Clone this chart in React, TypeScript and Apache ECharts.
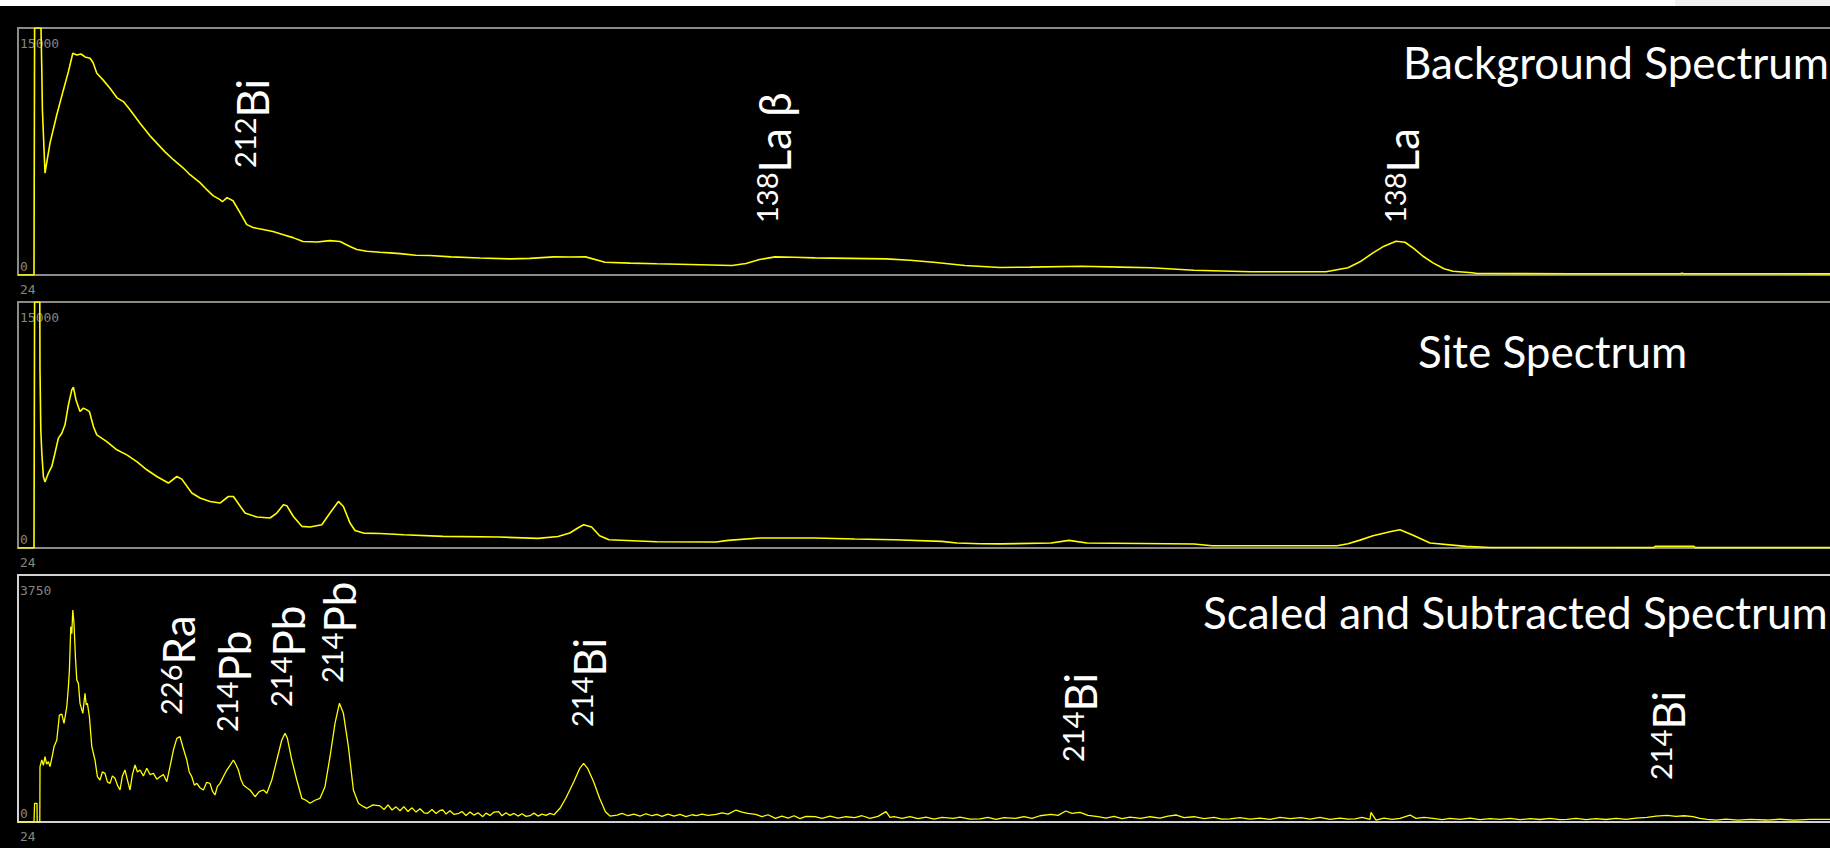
import React, { useEffect, useRef } from 'react';
import * as echarts from 'echarts';

// channel range of the x axis
const CHANNEL_MIN = 24;
const CHANNEL_MAX = 935;

const panelTitles = ['Background Spectrum', 'Site Spectrum', 'Scaled and Subtracted Spectrum'];
const panelMax = [15000, 15000, 3750];

// [channel, counts]
const background: [number, number][] = [
  [24, 0], [32, 0], [32.3, 15000], [35.5, 15000], [35.9, 12450], [36.2, 10030], [37.5, 6190],
  [40, 8010], [43.4, 9730], [46.7, 11240], [49.2, 12350], [51.4, 13470], [53.4, 13360], [55.5, 13420],
  [57.5, 13240], [60, 13160], [61.5, 12900], [63.4, 12250], [66.5, 11850], [70, 11340], [73.5, 10760],
  [76.7, 10530], [80, 10030], [85, 9220], [90, 8450], [93.4, 8010], [97.5, 7480], [101.7, 7000],
  [106.5, 6510], [110, 6090], [115, 5610], [118.4, 5180], [121.5, 4820], [125, 4580], [126.2, 4450],
  [128.5, 4700], [131.5, 4510], [135, 3790], [138.4, 3060], [141.5, 2880], [146.5, 2760], [151.5, 2640],
  [156.7, 2450], [161.5, 2270], [166.5, 2030], [173.5, 2000], [180, 2090], [185, 2030], [190, 1730],
  [193.4, 1550], [198.4, 1440], [205, 1380], [210, 1345], [215, 1300], [222.8, 1200], [230, 1180],
  [240.5, 1100], [255, 1030], [270, 980], [280, 1010], [292, 1100], [300, 1090], [307.8, 1100],
  [317.5, 776], [330, 720], [343.4, 679], [360, 640], [381, 576], [388, 700], [394.8, 940],
  [402.5, 1100], [412, 1080], [422.5, 1040], [440, 1010], [458, 980], [470, 900], [481.8, 776],
  [497.5, 576], [515, 455], [530, 480], [555.5, 533], [575, 480], [590.5, 436], [612, 291],
  [640.5, 194], [678, 194], [689, 436], [695, 800], [701.5, 1345], [707, 1750], [713, 2048],
  [717.5, 1988], [722, 1600], [726.5, 1139], [731.5, 739], [737, 376], [741.5, 230], [751, 133],
  [753.5, 91], [800, 75], [855, 80], [856, 110], [857, 78], [930, 70],
];

const site: [number, number][] = [
  [24, 0], [32, 0], [32.3, 15000], [34.9, 15000], [35, 10860], [35.4, 7210], [35.9, 5790],
  [36.7, 4360], [37.5, 4020], [39.2, 4570], [40.9, 4970], [42.5, 5790], [44.2, 6700], [45.9, 7000],
  [47.5, 7510], [49.2, 8730], [50.9, 9640], [51.7, 9800], [53, 9030], [55, 8320], [56.7, 8530],
  [58.4, 8420], [59.7, 8320], [61.7, 7410], [63.4, 6900], [68.4, 6490], [73.4, 5990], [78.4, 5680],
  [83.4, 5270], [88.4, 4770], [93.4, 4360], [99.2, 3960], [103.4, 4360], [105.9, 4200], [110.9, 3350],
  [115, 3050], [120, 2840], [125, 2740], [129.2, 3140], [131.7, 3140], [137.5, 2130], [143.4, 1890],
  [150, 1830], [153.4, 2130], [156.7, 2640], [158.4, 2580], [161.7, 1920], [165.9, 1320], [170, 1280],
  [175.9, 1420], [180, 2130], [184.2, 2840], [186.7, 2530], [190, 1520], [192.5, 1070], [196.7, 910],
  [205, 880], [216.9, 810], [236.5, 706], [264.3, 670], [284, 585], [294, 706], [299.9, 913],
  [303.9, 1218], [306.8, 1419], [310.8, 1279], [314.8, 749], [319.5, 505], [343.4, 383], [373, 365],
  [379, 463], [394.8, 609], [422.5, 609], [442.3, 548], [462, 505], [485.8, 402], [493.5, 304],
  [505, 262], [515, 250], [540.5, 304], [549.5, 463], [558.5, 304], [612, 243], [621, 140],
  [683.5, 140], [689, 262], [695, 480], [701.5, 749], [710.5, 1011], [715, 1115], [721, 810],
  [730, 304], [748, 97], [760, 30], [842, 25], [842.5, 97], [862, 97], [862.5, 25], [930, 20],
];

const subtracted: [number, number][] = [
  [24, 0], [32, 0], [32.3, 284], [33.5, 284], [33.6, 0], [34.9, 0], [35, 840], [35.9, 941],
  [36.7, 860], [37.5, 991], [38.3, 880], [39.2, 915], [40, 840], [41.4, 1043], [42, 1143], [43.4, 1245],
  [44.7, 1624], [45.9, 1639], [47, 1498], [48.4, 1750], [49.2, 2054], [49.7, 2307], [50.4, 2965],
  [50.9, 2860], [51.4, 3218], [52, 3016], [52.7, 2509], [53.4, 2156], [54.2, 2105], [55, 1802],
  [56.4, 1650], [57.5, 1954], [58.1, 1780], [58.7, 1802], [59.7, 1598], [60.9, 1143], [62.5, 941],
  [63.7, 688], [65, 638], [66.2, 760], [67.5, 739], [68.7, 610], [70, 587], [71.2, 700], [72.5, 663],
  [73.7, 560], [75, 486], [76.2, 700], [77.5, 789], [78.7, 640], [80, 486], [81.2, 720], [82.5, 865],
  [83.7, 760], [85, 789], [86.7, 700], [88.4, 815], [90, 720], [91.7, 739], [93.4, 650], [95, 688],
  [96.7, 720], [98.4, 612], [100, 840], [101.7, 1093], [103.4, 1270], [105, 1295], [106.4, 1143],
  [108.4, 941], [109.6, 760], [110.9, 688], [112.2, 560], [113.4, 587], [115, 520], [116.7, 486],
  [118.3, 600], [120, 587], [121.2, 470], [122.5, 410], [123.7, 540], [125, 587], [126.7, 690],
  [128.4, 789], [130, 860], [131.7, 941], [133, 870], [134.2, 789], [135.5, 640], [136.7, 562],
  [138.4, 520], [140, 486], [141.2, 440], [142.5, 384], [144.6, 460], [146.7, 486], [148.4, 436],
  [150.9, 638], [153.4, 941], [155.9, 1245], [157.5, 1346], [158.7, 1270], [160.9, 941], [163.4, 638],
  [165.9, 360], [168, 330], [170, 284], [172.5, 330], [175, 360], [177.5, 536], [180, 991],
  [182.5, 1498], [184.7, 1802], [186.7, 1650], [189.2, 1143], [191.7, 486], [194.2, 284], [196.3, 240],
  [198.4, 208], [201.5, 260], [205, 245], [207, 190], [209, 260], [211, 182], [213, 230], [215, 170],
  [216.9, 233], [219, 160], [221, 215], [223, 150], [225, 200], [227, 140], [228.8, 132], [231, 190],
  [233, 130], [235, 175], [236.5, 182], [238, 120], [240, 170], [242, 115], [244.5, 132], [246, 160],
  [248, 100], [250, 150], [252, 105], [254, 140], [256.4, 81], [258, 135], [260, 100], [262, 150],
  [264.3, 157], [266, 95], [268, 140], [270, 100], [272, 130], [274, 90], [276, 125], [278, 85],
  [280, 96], [282, 135], [284, 90], [286, 120], [288, 100], [290, 132], [292, 110], [293.5, 160],
  [295, 208], [297.9, 360], [301.9, 612], [304.9, 815], [306.8, 891], [308.8, 815], [311.8, 612],
  [314.8, 360], [317.7, 157], [320, 90], [323.5, 106], [326, 130], [329, 95], [332, 120], [335, 90],
  [338, 125], [341, 95], [343.4, 117], [346, 85], [349, 120], [352, 90], [355, 115], [358, 80],
  [361, 110], [363.2, 96], [366, 120], [369, 100], [373, 117], [376, 140], [379, 120], [383, 182],
  [386, 150], [389, 130], [392.8, 117], [396, 80], [399, 110], [402.7, 56], [406, 90], [409, 60],
  [412, 95], [415, 50], [418, 85], [422.5, 81], [426, 55], [430, 90], [434, 60], [438, 80],
  [442.3, 66], [446, 95], [450, 55], [454, 85], [458, 157], [460, 70], [462, 81], [466, 55],
  [470, 80], [474, 50], [478, 75], [482, 45], [486, 70], [491.7, 56], [495, 75], [500, 45],
  [505, 46], [509, 70], [513, 40], [517, 65], [522.9, 56], [527, 80], [531, 55], [535, 95],
  [540.5, 117], [544, 100], [547.9, 167], [551, 130], [555, 147], [559, 100], [564, 81], [568, 60],
  [572, 85], [576, 50], [580, 75], [585.4, 56], [590, 80], [595, 60], [599, 90], [603.2, 106],
  [607, 65], [612, 80], [617, 50], [622, 70], [626, 45], [630, 46], [635, 65], [640, 45], [645, 60],
  [650, 40], [655, 70], [660, 50], [665.5, 66], [670, 45], [675, 70], [680, 40], [685, 60], [689, 45],
  [692.5, 46], [696, 70], [700, 40], [700.5, 147], [703, 30], [707, 60], [711, 40], [715, 56],
  [720, 106], [723, 55], [727, 70], [731.5, 56], [736, 35], [740, 55], [745, 40], [750, 60],
  [755, 35], [760, 50], [765, 41], [770, 55], [775, 35], [780, 50], [785, 38], [790, 55], [795, 35],
  [798.5, 41], [803, 55], [808, 35], [813, 50], [818, 38], [823, 55], [828, 40], [833, 60],
  [838.5, 71], [843, 90], [848.5, 101], [853, 85], [857, 95], [861.5, 81], [865, 55], [868.5, 41],
  [873, 30], [878, 45], [884, 28], [890, 40], [898.5, 30], [905, 42], [912, 28], [920, 40], [930, 41],
];

// peak annotations: [mass number, element]
const bgPeaks = [['212', 'Bi'], ['138', 'La β'], ['138', 'La']];
const subPeaks = [['226', 'Ra'], ['214', 'Pb'], ['214', 'Pb'], ['214', 'Pb'], ['214', 'Bi'], ['214', 'Bi'], ['214', 'Bi']];

export default function App() {
  const ref = useRef<HTMLDivElement>(null);

  useEffect(() => {
    const chart = echarts.init(ref.current!, null, { renderer: 'svg' });

    const grids = [
      { top: 28, height: 247, border: '#8c8c84' },
      { top: 302, height: 246, border: '#8c8c84' },
      { top: 575, height: 247, border: '#d2d2d2' },
    ];
    const seriesData = [background, site, subtracted];
    const lineWidths = [1.6, 1.6, 1.3];
    const labelColor = '#85857d';
    const monoFont = 'DejaVu Sans Mono';

    const peakText = (x: number, y: number, p: string[]) => ({
      type: 'text',
      x,
      y,
      rotation: Math.PI / 2,
      z: 10,
      style: {
        text: `{s|${p[0]}}{m|${p[1]}}`,
        align: 'left',
        verticalAlign: 'middle',
        textAlign: 'left',
        textVerticalAlign: 'middle',
        fill: '#ffffff',
        rich: {
          s: { fontSize: 29, fontFamily: 'Lato', fill: '#ffffff', verticalAlign: 'top' },
          m: { fontSize: 44, fontFamily: 'Lato', fill: '#ffffff' },
        },
      },
    });

    const bgPos = [[252, 168], [774, 223], [1402, 223]];
    const subPos = [[178, 715], [234, 732], [288, 707], [339, 683], [589, 727], [1080, 762], [1668, 780]];
    const titlePos = [[1403, 62], [1418, 350.5], [1203, 612]];

    const option: any = {
      animation: false,
      backgroundColor: '#000000',
      grid: grids.map((g) => ({
        left: 18,
        width: 1822,
        top: g.top,
        height: g.height,
        show: true,
        borderColor: g.border,
        borderWidth: 2,
        backgroundColor: 'transparent',
      })),
      xAxis: grids.map((_, i) => ({
        type: 'value',
        gridIndex: i,
        min: CHANNEL_MIN,
        max: CHANNEL_MAX,
        axisLine: { show: false },
        axisTick: { show: false },
        splitLine: { show: false },
        axisLabel: {
          color: labelColor,
          fontFamily: monoFont,
          fontSize: 13,
          margin: 8,
          align: 'left',
          padding: [0, 0, 0, 2],
          showMinLabel: true,
          formatter: (v: number) => (v === CHANNEL_MIN ? String(v) : ''),
        },
      })),
      yAxis: grids.map((_, i) => ({
        type: 'value',
        gridIndex: i,
        min: 0,
        max: panelMax[i],
        interval: panelMax[i],
        axisLine: { show: false },
        axisTick: { show: false },
        splitLine: { show: false },
        axisLabel: {
          inside: true,
          margin: 2,
          formatter: (v: number) => (v === panelMax[i] ? `{t|${v}}` : `{b|${v}}`),
          rich: {
            t: { padding: [30, 0, 0, 0], color: labelColor, fontFamily: monoFont, fontSize: 13 },
            b: { padding: [0, 0, 18, 0], color: labelColor, fontFamily: monoFont, fontSize: 13 },
          },
        },
      })),
      series: seriesData.map((d, i) => ({
        type: 'line',
        xAxisIndex: i,
        yAxisIndex: i,
        data: d,
        showSymbol: false,
        symbol: 'none',
        silent: true,
        z: 3,
        lineStyle: { color: '#ffff00', width: lineWidths[i] },
      })),
      graphic: [
        { type: 'rect', shape: { x: 0, y: 0, width: 1675, height: 6 }, style: { fill: '#ffffff' }, z: 20 },
        { type: 'rect', shape: { x: 1675, y: 0, width: 175, height: 6 }, style: { fill: '#f0f0f0' }, z: 20 },
        ...panelTitles.map((t, i) => ({
          type: 'text',
          x: titlePos[i][0],
          y: titlePos[i][1],
          z: 10,
          style: {
            text: t,
            fontSize: 44,
            fontFamily: 'Lato',
            fill: '#ffffff',
            align: 'left',
            verticalAlign: 'middle',
            textAlign: 'left',
            textVerticalAlign: 'middle',
          },
        })),
        ...bgPeaks.map((p, i) => peakText(bgPos[i][0], bgPos[i][1], p)),
        ...subPeaks.map((p, i) => peakText(subPos[i][0], subPos[i][1], p)),
      ],
    };

    chart.setOption(option);
    return () => chart.dispose();
  }, []);

  return (
    <div style={{ position: 'fixed', left: 0, top: 0, width: 1830, height: 848, overflow: 'hidden', background: '#000' }}>
      <div ref={ref} style={{ width: 1850, height: 848 }} />
    </div>
  );
}
